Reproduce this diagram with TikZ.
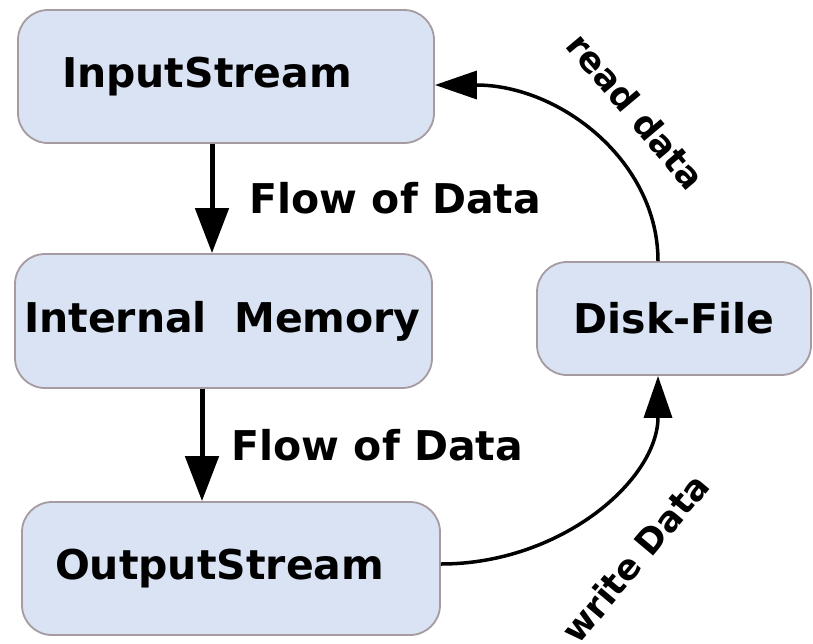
\documentclass[tikz,border=0pt]{standalone}
\usepackage{fontspec}
\setmainfont{DejaVu Sans}
\usetikzlibrary{arrows.meta}

\definecolor{boxfill}{RGB}{218,227,243}
\definecolor{boxline}{RGB}{165,155,160}

\tikzset{
  box/.style={draw=boxline, fill=boxfill, line width=1.8pt, rounded corners=30pt,
    font=\fontsize{41}{49}\selectfont\bfseries, align=left, inner ysep=0pt},
  flow/.style={line width=5pt, -{Triangle[length=45pt,width=33pt]}},
  link/.style={line width=3.5pt, -{Triangle[length=42pt,width=28pt]}},
  flowlbl/.style={font=\fontsize{41}{49}\selectfont\bfseries, inner sep=0pt},
  arclbl/.style={font=\fontsize{35}{42}\selectfont\bfseries, inner sep=0pt},
}

\begin{document}
\begin{tikzpicture}[x=1pt,y=1pt]
  % canvas
  \path[use as bounding box, fill=white] (0,0) rectangle (813,-643);

  % stream boxes
  \node[box, minimum width=416pt, minimum height=133pt, text width=328pt, inner xsep=44pt]
    (in) at (226,-76.5) {InputStream};
  \node[box, minimum width=417pt, minimum height=134pt, text width=399pt, inner xsep=9pt]
    (mem) at (223.5,-321) {Internal\ \ Memory};
  \node[box, minimum width=418pt, minimum height=133pt, text width=352pt, inner xsep=33pt]
    (out) at (231,-568.5) {OutputStream};
  \node[box, minimum width=274pt, minimum height=113pt, inner xsep=36pt]
    (disk) at (674,-318.5) {Disk-File};

  % internal flow
  \draw[flow] ([xshift=-14pt]in.south) -- ([xshift=-14pt]in.south |- mem.north)
    node[flowlbl, midway, anchor=west, xshift=35pt] (f1) {Flow of Data};
  \draw[flow] ([xshift=-21.5pt]mem.south) -- ([xshift=-21.5pt]mem.south |- out.north)
    node[flowlbl, midway, anchor=west, xshift=27pt] (f2) {Flow of Data};

  % file transfer
  \draw[link] ([xshift=-16pt]disk.north) .. controls +(0,100) and +(125,0) .. ([yshift=-8.5pt]in.east);
  \draw[link] ([yshift=4.5pt]out.east) .. controls +(120,0) and +(0,-104) .. ([xshift=-16pt]disk.south);

  \node[arclbl, rotate=-50] (rd) at (636,-111) {read data};
  \node[arclbl, rotate=50] (wd) at (635,-558) {write Data};
\end{tikzpicture}
\end{document}
